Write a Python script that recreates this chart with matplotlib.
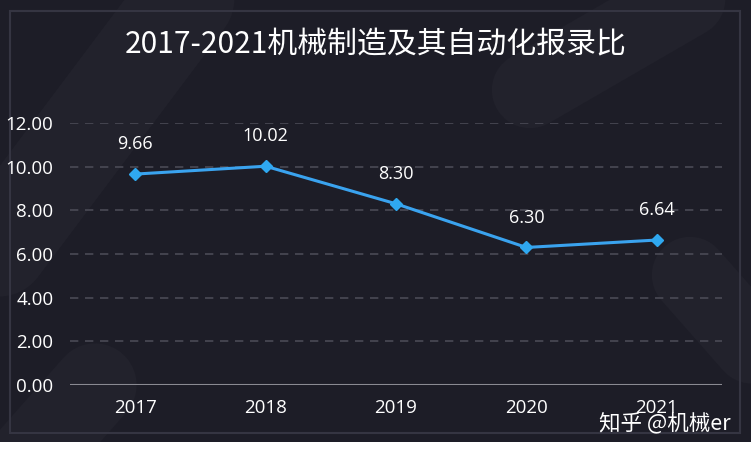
import matplotlib
matplotlib.use("Agg")
import matplotlib.pyplot as plt
from matplotlib.lines import Line2D
from matplotlib.patches import Rectangle

plt.rcParams['font.family'] = ['Noto Sans CJK SC', 'DejaVu Sans']

years = ['2017', '2018', '2019', '2020', '2021']
ratios = [9.66, 10.02, 8.30, 6.30, 6.64]
yticks = [0, 2, 4, 6, 8, 10, 12]
title = '2017-2021机械制造及其自动化报录比'
watermark = '知乎 @机械er'

NUMFONT = ['Open Sans', 'Noto Sans CJK SC']

W, H = 751, 457
fig = plt.figure(figsize=(W / 100, H / 100), dpi=100)
fig.patch.set_facecolor('white')

def fx(px):
    return px / W

def fy(py):
    return 1 - py / H

# dark background
bg = Rectangle((0, fy(442)), 1, 1 - fy(442), transform=fig.transFigure,
               facecolor='#1d1d27', edgecolor='none', zorder=0)
fig.patches.append(bg)
# decorative faint stripes
stripes = [((-40, 300), (200, -20), 70),
           ((530, 90), (720, -20), 55),
           ((690, 275), (800, 400), 55),
           ((95, 385), (20, 470), 60)]
for (x0, y0), (x1, y1), lw in stripes:
    ln = Line2D([fx(x0), fx(x1)], [fy(y0), fy(y1)], transform=fig.transFigure,
                color='#22222c', lw=lw, solid_capstyle='round', zorder=0.5)
    ln.set_clip_path(bg)
    fig.lines.append(ln)
# frame
fig.patches.append(Rectangle((fx(10), fy(433)), fx(740) - fx(10), fy(11) - fy(433),
                             transform=fig.transFigure, facecolor='none',
                             edgecolor='#353542', lw=1.5, zorder=1))

ax = fig.add_axes([fx(70), fy(385), fx(722) - fx(70), fy(123) - fy(385)])
ax.set_zorder(2)
ax.set_facecolor('none')
x = list(range(len(years)))
ax.plot(x, ratios, color='#3aa3ef', lw=2.2, marker='D', ms=6,
        markerfacecolor='#2fa8f0', markeredgecolor='#2fa8f0', zorder=4)
for xi, v in zip(x, ratios):
    ax.annotate(f'{v:.2f}', (xi, v), xytext=(0, 15), textcoords='offset points',
                ha='center', va='bottom', color='white', fontsize=13, family=NUMFONT)

ax.set_xlim(-0.5, len(years) - 0.5)
ax.set_ylim(0, 12)
ax.set_yticks(yticks)
ax.set_yticklabels([f'{t:.2f}' for t in yticks], family=NUMFONT)
ax.set_xticks(x)
ax.set_xticklabels(years, family=NUMFONT)
ax.tick_params(axis='both', length=0, colors='white', labelsize=13.5)
ax.tick_params(axis='y', pad=12)
ax.tick_params(axis='x', pad=10)
for s in ax.spines.values():
    s.set_visible(False)
ax.axhline(0, color='#8a8a92', lw=1.5, zorder=3)
for t in yticks[1:]:
    ax.axhline(t, color='#4a4a55', lw=1.2, ls=(0, (5, 4)), zorder=1)

fig.text(0.5, fy(45), title, ha='center', va='center', color='white', fontsize=21.5, zorder=3)
fig.text(fx(665), fy(424), watermark, ha='center', va='center', color='white', fontsize=15.5, zorder=3)

fig.savefig('out.png', dpi=100, facecolor=fig.get_facecolor())
